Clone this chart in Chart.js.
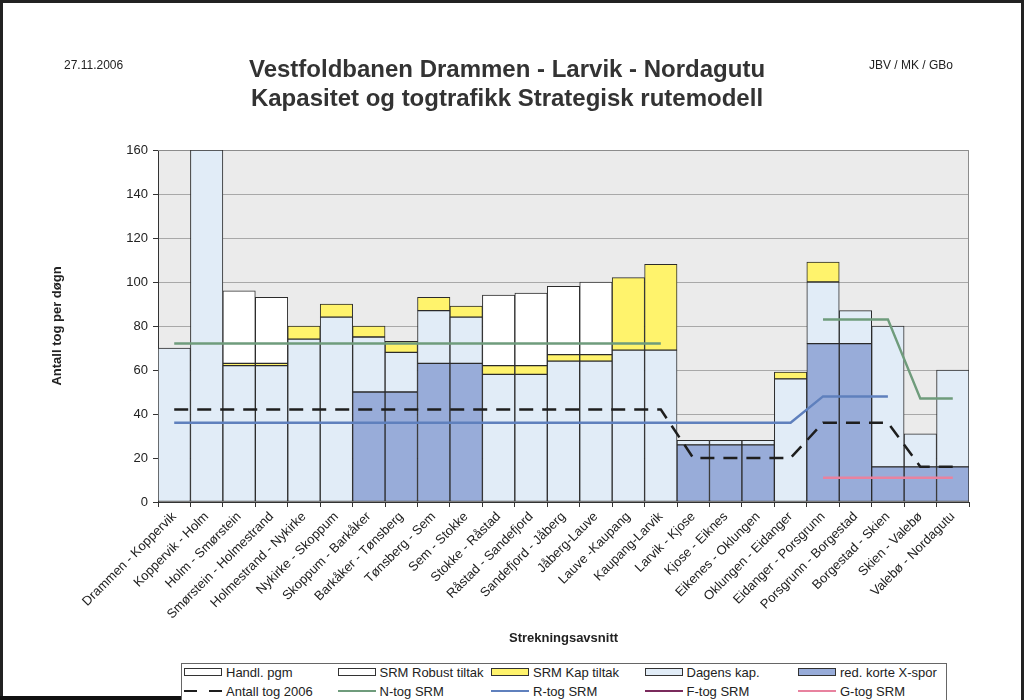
<!DOCTYPE html>
<html>
<head>
<meta charset="utf-8">
<script src="https://cdn.jsdelivr.net/npm/chart.js@4.4.0/dist/chart.umd.min.js"></script>
<style>
  html, body { margin: 0; padding: 0; background: #fff; }
  body { width: 1024px; height: 700px; position: relative; overflow: hidden;
         font-family: "Liberation Sans", Arial, sans-serif; color: #222; }
  #frame { position: absolute; left: 0; top: 0; width: 1018px; height: 697px;
           border-left: 3px solid #222; border-top: 3px solid #222; border-right: 3px solid #222; }
  #bottomBar { position: absolute; left: 0; top: 696px; width: 683px; height: 4px; background: #111; }
  #chartBox { position: absolute; left: 0; top: 0; }
  #date, #sign { position: absolute; top: 58px; font-size: 12px; line-height: 14px; }
  #date { left: 64px; }
  #sign { left: 869px; }
  #title { position: absolute; left: 0; width: 1014px; top: 54px; text-align: center;
           font-size: 24px; font-weight: bold; line-height: 29px; color: #333; }
  #legend { position: absolute; left: 181px; top: 663px; width: 766px; height: 45px;
            border: 1px solid #666; box-sizing: border-box; background: #fff; }
  .item { position: absolute; height: 16px; display: flex; align-items: center;
          font-size: 13px; white-space: nowrap; }
  .sym { width: 38px; margin-right: 4px; box-sizing: border-box; }
  .box { height: 8px; border: 1px solid #333; }
  .line { height: 2px; }
</style>
</head>
<body>
<div id="frame"></div>
<div id="bottomBar"></div>
<div id="chartBox"><canvas id="chart" width="1024" height="660"></canvas></div>
<div id="date">27.11.2006</div>
<div id="title">Vestfoldbanen Drammen - Larvik - Nordagutu<br>Kapasitet og togtrafikk Strategisk rutemodell</div>
<div id="sign">JBV / MK / GBo</div>
<div id="legend"></div>
<script>
// strekninger (kategorier)
const categories = [
    'Drammen - Koppervik', 'Koppervik - Holm', 'Holm - Smørstein', 'Smørstein - Holmestrand',
    'Holmestrand - Nykirke', 'Nykirke - Skoppum', 'Skoppum - Barkåker', 'Barkåker - Tønsberg',
    'Tønsberg - Sem', 'Sem - Stokke', 'Stokke - Råstad', 'Råstad - Sandefjord',
    'Sandefjord - Jåberg', 'Jåberg-Lauve', 'Lauve -Kaupang', 'Kaupang-Larvik',
    'Larvik - Kjose', 'Kjose - Eiknes', 'Eikenes - Oklungen', 'Oklungen - Eidanger',
    'Eidanger - Porsgrunn', 'Porsgrunn - Borgestad', 'Borgestad - Skien', 'Skien - Valebø',
    'Valebø - Nordagutu'
];

// stablede søyler, nederst først
const redKorteXspor = [null, null, null, null, null, null, 50, 50, 63, 63, null, null, null,
    null, null, null, 26, 26, 26, null, 72, 72, 16, 16, 16];
const dagensKap = [70, 160, 62, 62, 74, 84, 25, 18, 24, 21, 58, 58, 64,
    64, 69, 69, 2, 2, 2, 56, 28, 15, 64, 15, 44];
const srmKapTiltak = [null, null, 1, 1, 6, 6, 5, 5, 6, 5, 4, 4, 3,
    3, 33, 39, null, null, null, 3, 9, null, null, null, null];
const srmRobustTiltak = [null, null, 33, 30, null, null, null, null, null, null, 32, 33, 31,
    33, null, null, null, null, null, null, null, null, null, null, null];
const handlPgm = categories.map(() => null);

// linjer
const antallTog2006 = [42, 42, 42, 42, 42, 42, 42, 42, 42, 42, 42, 42, 42,
    42, 42, 42, 20, 20, 20, 20, 36, 36, 36, 16, 16];
const nTogSrm = [72, 72, 72, 72, 72, 72, 72, 72, 72, 72, 72, 72, 72,
    72, 72, 72, null, null, null, null, 83, 83, 83, 47, 47];
const rTogSrm = [36, 36, 36, 36, 36, 36, 36, 36, 36, 36, 36, 36, 36,
    36, 36, 36, 36, 36, 36, 36, 48, 48, 48, null, null];
const fTogSrm = categories.map(() => null);
const gTogSrm = [null, null, null, null, null, null, null, null, null, null, null, null, null,
    null, null, null, null, null, null, null, 11, 11, 11, 11, 11];

const yMin = 0;
const yMax = 160;
const yStep = 20;

const barStyle = { type: 'bar', stack: 'kap', borderColor: '#2b2b2b', borderWidth: 1,
    borderSkipped: false, categoryPercentage: 1, barPercentage: 1 };
const lineStyle = { type: 'line', pointRadius: 0, borderWidth: 2.5, tension: 0, fill: false };

// linjene først så de tegnes over søylene
const datasets = [
    { ...lineStyle, label: 'Antall tog 2006', data: antallTog2006, stack: 'a',
      borderColor: '#1e1e1e', borderDash: [14, 9] },
    { ...lineStyle, label: 'N-tog SRM', data: nTogSrm, stack: 'n', borderColor: '#6f9c7c' },
    { ...lineStyle, label: 'R-tog SRM', data: rTogSrm, stack: 'r', borderColor: '#5f80bd' },
    { ...lineStyle, label: 'F-tog SRM', data: fTogSrm, stack: 'f', borderColor: '#7a2a5c' },
    { ...lineStyle, label: 'G-tog SRM', data: gTogSrm, stack: 'g', borderColor: '#e8829f' },
    { ...barStyle, label: 'red. korte X-spor', data: redKorteXspor, backgroundColor: '#98acd9' },
    { ...barStyle, label: 'Dagens kap.', data: dagensKap, backgroundColor: '#e1ecf7' },
    { ...barStyle, label: 'SRM Kap tiltak', data: srmKapTiltak, backgroundColor: '#fff36c' },
    { ...barStyle, label: 'SRM Robust tiltak', data: srmRobustTiltak, backgroundColor: '#ffffff' },
    { ...barStyle, label: 'Handl. pgm', data: handlPgm, backgroundColor: '#ffffff' }
];

const plotFrame = {
    id: 'plotFrame',
    beforeDraw(chart) {
        const { ctx, chartArea: a } = chart;
        ctx.save();
        ctx.fillStyle = '#ebebeb';
        ctx.fillRect(a.left, a.top, a.right - a.left, a.bottom - a.top);
        ctx.restore();
    },
    beforeDatasetsDraw(chart) {
        const { ctx, chartArea: a } = chart;
        ctx.save();
        ctx.strokeStyle = '#8c8c8c';
        ctx.lineWidth = 1;
        ctx.beginPath();
        ctx.moveTo(a.left, a.top + 0.5);
        ctx.lineTo(a.right - 0.5, a.top + 0.5);
        ctx.lineTo(a.right - 0.5, a.bottom);
        ctx.stroke();
        ctx.restore();
    }
};

const axisFont = { family: '"Liberation Sans", Arial, sans-serif', size: 13 };
const titleFont = { family: '"Liberation Sans", Arial, sans-serif', size: 13, weight: 'bold' };

new Chart(document.getElementById('chart'), {
    type: 'bar',
    data: { labels: categories, datasets: datasets },
    options: {
        responsive: false,
        animation: false,
        layout: { padding: { left: 40, top: 150, right: 55, bottom: 8 } },
        plugins: { legend: { display: false }, tooltip: { enabled: false } },
        scales: {
            x: {
                stacked: true,
                grid: { drawOnChartArea: false, tickLength: 5, color: '#333', offset: true },
                border: { color: '#333' },
                ticks: { autoSkip: false, minRotation: 45, maxRotation: 45, color: '#222',
                         font: axisFont, padding: 2 },
                title: { display: true, text: 'Strekningsavsnitt', color: '#222', font: titleFont,
                         padding: { top: 0, bottom: 6 } },
                afterFit: (scale) => { scale.height = 150; }
            },
            y: {
                stacked: true,
                min: yMin, max: yMax,
                grid: { color: '#a8a8a8', tickColor: '#333', tickLength: 5 },
                border: { color: '#333' },
                ticks: { stepSize: yStep, color: '#222', font: axisFont, padding: 5 },
                title: { display: true, text: 'Antall tog per døgn', color: '#222', font: titleFont,
                         padding: { top: 10, bottom: 0 } },
                afterFit: (scale) => { scale.width = 118; }
            }
        }
    },
    plugins: [plotFrame]
});

// forklaring i to rader, fem kolonner
const legendRows = [
    ['Handl. pgm', 'SRM Robust tiltak', 'SRM Kap tiltak', 'Dagens kap.', 'red. korte X-spor'],
    ['Antall tog 2006', 'N-tog SRM', 'R-tog SRM', 'F-tog SRM', 'G-tog SRM']
];
const legend = document.getElementById('legend');
legendRows.forEach((row, r) => {
    row.forEach((label, c) => {
        const ds = datasets.find(d => d.label === label);
        const item = document.createElement('div');
        item.className = 'item';
        item.style.left = (2 + c * 153.5) + 'px';
        item.style.top = (r === 0 ? 0 : 19) + 'px';
        const sym = document.createElement('div');
        if (ds.type === 'bar') {
            sym.className = 'sym box';
            sym.style.background = ds.backgroundColor;
        } else {
            sym.className = 'sym line';
            sym.style.background = ds.borderDash
                ? 'repeating-linear-gradient(to right, ' + ds.borderColor + ' 0 13px, transparent 13px 25px)'
                : ds.borderColor;
        }
        const txt = document.createElement('span');
        txt.textContent = label;
        item.appendChild(sym);
        item.appendChild(txt);
        legend.appendChild(item);
    });
});
</script>
</body>
</html>
